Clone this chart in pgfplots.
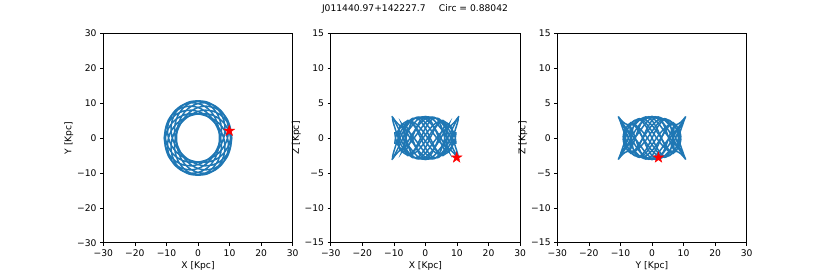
\documentclass[border=0pt]{standalone}
\usepackage{fontspec}
\setmainfont{DejaVu Sans}
\usepackage{pgfplots}
\pgfplotsset{compat=1.18}
\usepackage{pgfplotstable}
\definecolor{tabblue}{HTML}{1F77B4}
\pgfdeclareplotmark{fstar}{%
  \pgfpathmoveto{\pgfpointpolar{90}{\pgfplotmarksize}}%
  \pgfpathlineto{\pgfpointpolar{126}{0.382\pgfplotmarksize}}%
  \pgfpathlineto{\pgfpointpolar{162}{\pgfplotmarksize}}%
  \pgfpathlineto{\pgfpointpolar{198}{0.382\pgfplotmarksize}}%
  \pgfpathlineto{\pgfpointpolar{234}{\pgfplotmarksize}}%
  \pgfpathlineto{\pgfpointpolar{270}{0.382\pgfplotmarksize}}%
  \pgfpathlineto{\pgfpointpolar{306}{\pgfplotmarksize}}%
  \pgfpathlineto{\pgfpointpolar{342}{0.382\pgfplotmarksize}}%
  \pgfpathlineto{\pgfpointpolar{18}{\pgfplotmarksize}}%
  \pgfpathlineto{\pgfpointpolar{54}{0.382\pgfplotmarksize}}%
  \pgfpathclose
  \pgfusepathqfillstroke
}
\pgfplotstableread{
x y xm zx zxm zy zym
10.70 0 -10.70 3.10 -3.10 3.10 -3.10
10.21 2.74 -10.21 2.85 -2.85 2.53 -2.53
8.83 5.10 -8.83 1.60 -1.60 1.19 -1.19
6.82 6.82 -6.82 -0.17 0.17 -0.17 0.17
4.48 7.75 -4.48 -1.61 1.61 -1.07 1.07
2.14 7.97 -2.14 -2.79 2.79 -1.60 1.60
0 7.60 0 -3.06 3.06 -1.87 1.87
-1.84 6.87 1.84 -2.32 2.32 -1.65 1.65
-3.42 5.92 3.42 -0.90 0.90 -0.76 0.76
-4.82 4.82 4.82 0.62 -0.62 0.62 -0.62
-6.11 3.53 6.11 1.69 -1.69 2.04 -2.04
-7.26 1.95 7.26 1.97 -1.97 2.95 -2.95
-8.15 0 8.15 1.56 -1.56 2.95 -2.95
-8.55 -2.29 8.55 0.91 -0.91 1.95 -1.95
-8.26 -4.77 8.26 0.24 -0.24 0.42 -0.42
-7.16 -7.16 7.16 -0.79 0.79 -0.79 0.79
-5.27 -9.12 5.27 -2.10 2.10 -2.00 2.00
-2.77 -10.34 2.77 -2.96 2.96 -2.85 2.85
0 -10.60 0 -2.76 2.76 -3.00 3.00
2.66 -9.92 -2.66 -1.56 1.56 -2.30 2.30
4.87 -8.43 -4.87 0 0 -1.10 1.10
6.40 -6.40 -6.40 1.21 -1.21 1.21 -1.21
7.22 -4.17 -7.22 1.82 -1.82 2.49 -2.49
7.43 -1.99 -7.43 1.96 -1.96 3.02 -3.02
7.17 0 -7.17 1.67 -1.67 2.51 -2.51
6.64 1.78 -6.64 0.86 -0.86 1.17 -1.17
5.90 3.41 -5.90 -0.38 0.38 -0.45 0.45
4.96 4.96 -4.96 -1.72 1.72 -1.72 1.72
3.73 6.45 -3.73 -2.72 2.72 -2.19 2.19
2.08 7.78 -2.08 -2.94 2.94 -1.76 1.76
0 8.75 0 -2.19 2.19 -0.90 0.90
-2.45 9.13 2.45 -0.70 0.70 -0.22 0.22
-5.03 8.70 5.03 0.82 -0.82 0.41 -0.41
-7.42 7.42 7.42 1.50 -1.50 1.50 -1.50
-9.26 5.35 9.26 2.30 -2.30 2.54 -2.54
-10.27 2.75 10.27 2.86 -2.86 2.74 -2.74
-10.33 0 10.33 2.50 -2.50 1.82 -1.82
-9.48 -2.54 9.48 1.20 -1.20 0.23 -0.23
-7.93 -4.58 7.93 -0.80 0.80 -1.24 1.24
-5.98 -5.98 5.98 -2.06 2.06 -2.06 2.06
-3.89 -6.74 3.89 -2.83 2.83 -2.21 2.21
-1.87 -6.98 1.87 -2.59 2.59 -1.81 1.81
0 -6.90 0 -1.41 1.41 -0.98 0.98
1.76 -6.57 -1.76 0.24 -0.24 0.17 -0.17
3.49 -6.04 -3.49 1.70 -1.70 1.41 -1.41
5.21 -5.21 -5.21 2.40 -2.40 2.40 -2.40
6.89 -3.98 -6.89 2.13 -2.13 2.78 -2.78
8.36 -2.24 -8.36 1.16 -1.16 2.29 -2.29
9.35 0 -9.35 0.22 -0.22 0.96 -0.96
9.64 2.58 -9.64 -0.72 0.72 -0.69 0.69
9.04 5.22 -9.04 -0.74 0.74 -1.84 1.84
7.55 7.55 -7.55 -1.86 1.86 -1.86 1.86
5.33 9.23 -5.33 -2.45 2.45 -2.30 2.30
2.69 10.04 -2.69 -1.93 1.93 -2.70 2.70
0 9.90 0 -0.48 0.48 -2.20 2.20
-2.39 8.93 2.39 1.15 -1.15 -0.90 0.90
-4.28 7.40 4.28 2.25 -2.25 1.60 -1.60
-5.56 5.56 5.56 2.52 -2.52 2.52 -2.52
-6.32 3.65 6.32 2.08 -2.08 2.55 -2.55
-6.69 1.79 6.69 1.16 -1.16 1.59 -1.59
-6.80 0 6.80 0 0 0 0
-6.69 -1.79 6.69 -1.16 1.16 -1.59 1.59
-6.32 -3.65 6.32 -2.08 2.08 -2.55 2.55
-5.56 -5.56 5.56 -2.52 2.52 -2.52 2.52
-4.28 -7.40 4.28 -2.25 2.25 -1.60 1.60
-2.39 -8.93 2.39 -1.15 1.15 0.90 -0.90
0 -9.90 0 0.48 -0.48 2.20 -2.20
2.69 -10.04 -2.69 1.93 -1.93 2.70 -2.70
5.33 -9.23 -5.33 2.45 -2.45 2.30 -2.30
7.55 -7.55 -7.55 1.86 -1.86 1.86 -1.86
9.04 -5.22 -9.04 0.74 -0.74 1.84 -1.84
9.64 -2.58 -9.64 0.72 -0.72 0.69 -0.69
9.35 0 -9.35 -0.22 0.22 -0.96 0.96
8.36 2.24 -8.36 -1.16 1.16 -2.29 2.29
6.89 3.98 -6.89 -2.13 2.13 -2.78 2.78
5.21 5.21 -5.21 -2.40 2.40 -2.40 2.40
3.49 6.04 -3.49 -1.70 1.70 -1.41 1.41
1.76 6.57 -1.76 -0.24 0.24 -0.17 0.17
0 6.90 0 1.41 -1.41 0.98 -0.98
-1.87 6.98 1.87 2.59 -2.59 1.81 -1.81
-3.89 6.74 3.89 2.83 -2.83 2.21 -2.21
-5.98 5.98 5.98 2.06 -2.06 2.06 -2.06
-7.93 4.58 7.93 0.80 -0.80 1.24 -1.24
-9.48 2.54 9.48 -1.20 1.20 -0.23 0.23
-10.33 0 10.33 -2.50 2.50 -1.82 1.82
-10.27 -2.75 10.27 -2.86 2.86 -2.74 2.74
-9.26 -5.35 9.26 -2.30 2.30 -2.54 2.54
-7.42 -7.42 7.42 -1.50 1.50 -1.50 1.50
-5.03 -8.70 5.03 -0.82 0.82 -0.41 0.41
-2.45 -9.13 2.45 0.70 -0.70 0.22 -0.22
0 -8.75 0 2.19 -2.19 0.90 -0.90
2.08 -7.78 -2.08 2.94 -2.94 1.76 -1.76
3.73 -6.45 -3.73 2.72 -2.72 2.19 -2.19
4.96 -4.96 -4.96 1.72 -1.72 1.72 -1.72
5.90 -3.41 -5.90 0.38 -0.38 0.45 -0.45
6.64 -1.78 -6.64 -0.86 0.86 -1.17 1.17
7.17 0 -7.17 -1.67 1.67 -2.51 2.51
7.43 1.99 -7.43 -1.96 1.96 -3.02 3.02
7.22 4.17 -7.22 -1.82 1.82 -2.49 2.49
6.40 6.40 -6.40 -1.21 1.21 -1.21 1.21
4.87 8.43 -4.87 0 0 1.10 -1.10
2.66 9.92 -2.66 1.56 -1.56 2.30 -2.30
0 10.60 0 2.76 -2.76 3.00 -3.00
-2.77 10.34 2.77 2.96 -2.96 2.85 -2.85
-5.27 9.12 5.27 2.10 -2.10 2.00 -2.00
-7.16 7.16 7.16 0.79 -0.79 0.79 -0.79
-8.26 4.77 8.26 -0.24 0.24 -0.42 0.42
-8.55 2.29 8.55 -0.91 0.91 -1.95 1.95
-8.15 0 8.15 -1.56 1.56 -2.95 2.95
-7.26 -1.95 7.26 -1.97 1.97 -2.95 2.95
-6.11 -3.53 6.11 -1.69 1.69 -2.04 2.04
-4.82 -4.82 4.82 -0.62 0.62 -0.62 0.62
-3.42 -5.92 3.42 0.90 -0.90 0.76 -0.76
-1.84 -6.87 1.84 2.32 -2.32 1.65 -1.65
0 -7.60 0 3.06 -3.06 1.87 -1.87
2.14 -7.97 -2.14 2.79 -2.79 1.60 -1.60
4.48 -7.75 -4.48 1.61 -1.61 1.07 -1.07
6.82 -6.82 -6.82 0.17 -0.17 0.17 -0.17
8.83 -5.10 -8.83 -1.60 1.60 -1.19 1.19
10.21 -2.74 -10.21 -2.85 2.85 -2.53 2.53
10.70 0 -10.70 -3.10 3.10 -3.10 3.10
}\orbit
\pgfplotstableread{
x y z
9.9 2.05 -2.8
}\star
\pgfplotsset{
  orb/.style={scale only axis, width=189.4bp, height=209.4bp, anchor=south west,
    tick align=outside, tick pos=left, major tick length=3.2bp,
    axis line style={line width=0.6bp},
    every tick/.style={black, line width=0.6bp},
    ticklabel style={font=\fontsize{9.2}{11}\selectfont},
    label style={font=\fontsize{9.2}{11}\selectfont},
    ylabel shift=-3bp, xlabel shift=-1.5bp,
    xmin=-30, xmax=30, xtick={-30,-20,...,30},
    xticklabels={−30,−20,−10,0,10,20,30}},
  half/.style={ymin=-15, ymax=15, ytick={-15,-10,...,15},
    yticklabels={−15,−10,−5,0,5,10,15}},
  orbline/.style={tabblue, line width=1.5bp, smooth, no marks},
  starm/.style={only marks, mark=fstar, mark size=5.8bp,
    mark options={fill=red, draw=red, line width=0.3bp}}
}
\begin{document}
\begin{tikzpicture}
\path[use as bounding box] (0,0) rectangle (830bp,277bp);
\node[font=\fontsize{9.2}{11}\selectfont] at (415bp,268bp) {J011440.97+142227.7\hspace{1.45em}Circ = 0.88042};
\begin{axis}[orb, at={(103.3bp,34.3bp)}, ymin=-30, ymax=30, ytick={-30,-20,...,30},
  yticklabels={−30,−20,−10,0,10,20,30}, xlabel={X [Kpc]}, ylabel={Y [Kpc]}]
\addplot[orbline] table[x=x, y=y] {\orbit};
\addplot[orbline] table[x=xm, y=y] {\orbit};
\addplot[starm] table[x=x, y=y] {\star};
\end{axis}
\begin{axis}[orb, half, at={(330.7bp,34.3bp)}, xlabel={X [Kpc]}, ylabel={Z [Kpc]}]
\addplot[orbline] table[x=x, y=zx] {\orbit};
\addplot[orbline] table[x=xm, y=zxm] {\orbit};
\addplot[starm] table[x=x, y=z] {\star};
\end{axis}
\begin{axis}[orb, half, at={(557.3bp,34.3bp)}, xlabel={Y [Kpc]}, ylabel={Z [Kpc]}]
\addplot[orbline] table[x=y, y=zy] {\orbit};
\addplot[orbline] table[x=y, y=zym] {\orbit};
\addplot[starm] table[x=y, y=z] {\star};
\end{axis}
\end{tikzpicture}
\end{document}
